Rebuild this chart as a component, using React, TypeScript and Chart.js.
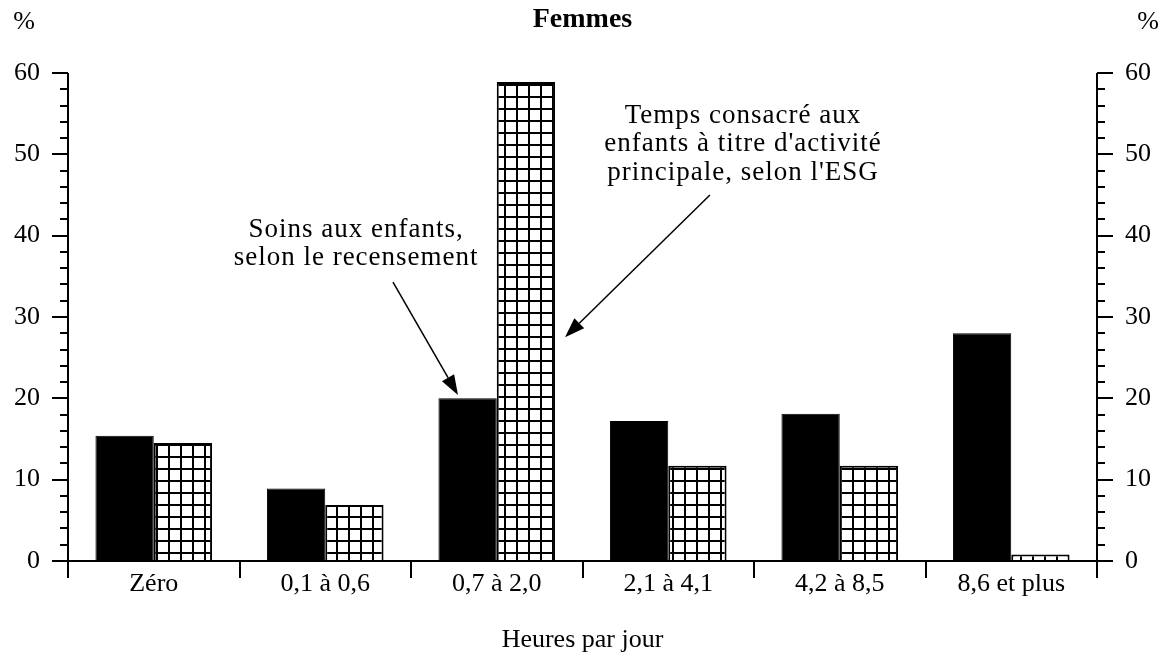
import React, { useEffect, useRef } from 'react';
import { Chart, registerables } from 'chart.js';

Chart.register(...registerables);

// ---------- data ----------
const categories = ['Zéro', '0,1 à 0,6', '0,7 à 2,0', '2,1 à 4,1', '4,2 à 8,5', '8,6 et plus'];
const recensement = [15.4, 8.9, 20.0, 17.2, 18.1, 28.0];
const esg = [14.5, 6.9, 58.9, 11.7, 11.7, 0.8];
const yMin = 0;
const yMax = 60;
const yMajorStep = 10;
const yMinorStep = 2;

const chartTitle = 'Femmes';
const xAxisTitle = 'Heures par jour';
const unitLabel = '%';
const noteRecensement = ['Soins aux enfants,', 'selon le recensement'];
const noteEsg = ['Temps consacré aux', "enfants à titre d'activité", "principale, selon l'ESG"];

// annotation anchors in (category index, value) units
const noteRecensementPos = { x: 1.18, y: [39.8, 36.4] };
const noteRecensementArrow = { from: [1.395, 34.3], to: [1.774, 20.4] };
const noteEsgPos = { x: 3.436, y: [53.9, 50.4, 46.8] };
const noteEsgArrow = { from: [3.243, 45.0], to: [2.398, 27.5] };

const FONT = '"Liberation Serif", "Times New Roman", serif';

function makePattern(): CanvasPattern | string {
  const c = document.createElement('canvas');
  c.width = 12;
  c.height = 12;
  const g = c.getContext('2d');
  if (!g) return '#fff';
  g.fillStyle = '#fff';
  g.fillRect(0, 0, 12, 12);
  g.fillStyle = '#000';
  g.fillRect(0, 0, 2, 12);
  g.fillRect(0, 0, 12, 2);
  const p = g.createPattern(c, 'repeat');
  return p || '#fff';
}

function line(ctx: CanvasRenderingContext2D, x1: number, y1: number, x2: number, y2: number) {
  ctx.beginPath();
  ctx.moveTo(x1, y1);
  ctx.lineTo(x2, y2);
  ctx.stroke();
}

function arrow(ctx: CanvasRenderingContext2D, x1: number, y1: number, x2: number, y2: number) {
  const ang = Math.atan2(y2 - y1, x2 - x1);
  const len = 20;
  const hw = 7;
  const bx = x2 - len * Math.cos(ang);
  const by = y2 - len * Math.sin(ang);
  ctx.save();
  ctx.lineWidth = 1.5;
  line(ctx, x1, y1, bx, by);
  ctx.beginPath();
  ctx.moveTo(x2, y2);
  ctx.lineTo(bx + hw * Math.sin(ang), by - hw * Math.cos(ang));
  ctx.lineTo(bx - hw * Math.sin(ang), by + hw * Math.cos(ang));
  ctx.closePath();
  ctx.fill();
  ctx.restore();
}

const decorPlugin = {
  id: 'decor',
  afterDraw(chart: any) {
    const ctx: CanvasRenderingContext2D = chart.ctx;
    const { left, right, bottom } = chart.chartArea;
    const xs = chart.scales.x;
    const ys = chart.scales.y;
    ctx.save();
    ctx.strokeStyle = '#000';
    ctx.fillStyle = '#000';
    ctx.lineWidth = 2;

    // axes
    const catTick = 17;
    line(ctx, left, ys.getPixelForValue(yMax), left, bottom + catTick);
    line(ctx, right, ys.getPixelForValue(yMax), right, bottom + catTick);
    line(ctx, left, bottom, right, bottom);

    // y ticks, major & minor, both sides
    for (let v = yMin; v <= yMax; v += yMinorStep) {
      const len = v % yMajorStep === 0 ? 16 : 8;
      const py = Math.round(ys.getPixelForValue(v));
      line(ctx, left - len, py, left, py);
      line(ctx, right, py, right + len, py);
    }

    // category boundary ticks
    for (let i = 1; i < categories.length; i++) {
      const bx = Math.round((xs.getPixelForValue(i - 1) + xs.getPixelForValue(i)) / 2);
      line(ctx, bx, bottom, bx, bottom + catTick);
    }

    // title
    ctx.textAlign = 'center';
    ctx.textBaseline = 'middle';
    ctx.font = `bold 28px ${FONT}`;
    ctx.fillText(chartTitle, (left + right) / 2, 20);

    // unit labels
    ctx.font = `26px ${FONT}`;
    ctx.fillText(unitLabel, 24, 22);
    ctx.fillText(unitLabel, 1148, 22);

    // x axis title
    ctx.fillText(xAxisTitle, (left + right) / 2, 640);

    // notes
    ctx.font = `27px ${FONT}`;
    (ctx as any).letterSpacing = '1px';
    ctx.textBaseline = 'alphabetic';
    noteRecensement.forEach((t, i) => {
      ctx.fillText(t, xs.getPixelForValue(noteRecensementPos.x), ys.getPixelForValue(noteRecensementPos.y[i]));
    });
    noteEsg.forEach((t, i) => {
      ctx.fillText(t, xs.getPixelForValue(noteEsgPos.x), ys.getPixelForValue(noteEsgPos.y[i]));
    });
    (ctx as any).letterSpacing = '0px';

    arrow(
      ctx,
      xs.getPixelForValue(noteRecensementArrow.from[0]), ys.getPixelForValue(noteRecensementArrow.from[1]),
      xs.getPixelForValue(noteRecensementArrow.to[0]), ys.getPixelForValue(noteRecensementArrow.to[1])
    );
    arrow(
      ctx,
      xs.getPixelForValue(noteEsgArrow.from[0]), ys.getPixelForValue(noteEsgArrow.from[1]),
      xs.getPixelForValue(noteEsgArrow.to[0]), ys.getPixelForValue(noteEsgArrow.to[1])
    );
    ctx.restore();
  },
};

export default function App() {
  const ref = useRef<HTMLCanvasElement | null>(null);

  useEffect(() => {
    if (!ref.current) return;
    const pattern = makePattern();
    const tickFont = { family: FONT, size: 26 };
    const chart = new Chart(ref.current, {
      type: 'bar',
      data: {
        labels: categories,
        datasets: [
          {
            label: 'Soins aux enfants, selon le recensement',
            data: recensement,
            backgroundColor: '#000',
            borderColor: '#000',
            borderWidth: 1,
            yAxisID: 'y',
          },
          {
            label: "Temps consacré aux enfants à titre d'activité principale, selon l'ESG",
            data: esg,
            backgroundColor: pattern as any,
            borderColor: '#000',
            borderWidth: 2,
            yAxisID: 'y',
          },
        ],
      },
      options: {
        responsive: false,
        animation: false,
        events: [],
        datasets: { bar: { categoryPercentage: 0.68, barPercentage: 1.0 } },
        layout: { padding: { top: 73, left: 0, right: 0, bottom: 0 } },
        plugins: {
          legend: { display: false },
          tooltip: { enabled: false },
          title: { display: false },
        },
        scales: {
          x: {
            grid: { display: false, drawTicks: false },
            border: { display: false },
            ticks: { color: '#000', font: tickFont, padding: 8, maxRotation: 0, autoSkip: false },
            afterFit: (s: any) => { s.height = 99; },
          },
          y: {
            position: 'left',
            min: yMin,
            max: yMax,
            grid: { display: false, drawTicks: false },
            border: { display: false },
            ticks: { stepSize: yMajorStep, color: '#000', font: tickFont, padding: 28 },
            afterFit: (s: any) => { s.width = 68; },
          },
          y2: {
            position: 'right',
            min: yMin,
            max: yMax,
            grid: { display: false, drawTicks: false },
            border: { display: false },
            ticks: { stepSize: yMajorStep, color: '#000', font: tickFont, padding: 28 },
            afterFit: (s: any) => { s.width = 65; },
          },
        },
      } as any,
      plugins: [decorPlugin],
    });
    return () => chart.destroy();
  }, []);

  return (
    <div style={{ position: 'fixed', left: 0, top: 0, width: 1162, height: 660, background: '#fff' }}>
      <canvas ref={ref} width={1162} height={660} style={{ display: 'block' }} />
    </div>
  );
}
